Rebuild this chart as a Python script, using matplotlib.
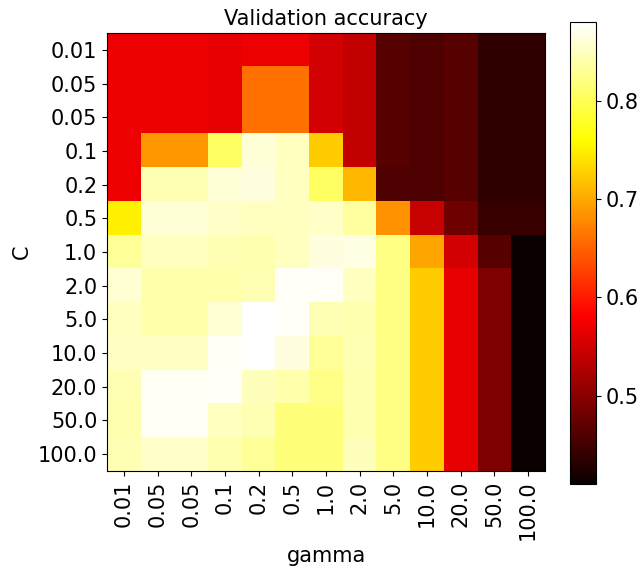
import numpy as np
import matplotlib
matplotlib.use('Agg')
import matplotlib.pyplot as plt

# tick labels as they appear on the chart
gamma_labels = ['0.01', '0.05', '0.05', '0.1', '0.2', '0.5', '1.0', '2.0',
                '5.0', '10.0', '20.0', '50.0', '100.0']
C_labels = ['0.01', '0.05', '0.05', '0.1', '0.2', '0.5', '1.0', '2.0',
            '5.0', '10.0', '20.0', '50.0', '100.0']

# validation accuracy, rows = C, cols = gamma
row_c001 = [0.571, 0.571, 0.571, 0.566, 0.571, 0.571, 0.550, 0.539, 0.464, 0.456, 0.464, 0.437, 0.437]
row_c005a = [0.571, 0.571, 0.571, 0.566, 0.660, 0.660, 0.550, 0.539, 0.464, 0.456, 0.464, 0.437, 0.437]
row_c005b = [0.571, 0.571, 0.571, 0.566, 0.660, 0.660, 0.550, 0.539, 0.464, 0.456, 0.464, 0.437, 0.437]
row_c01 = [0.571, 0.688, 0.688, 0.806, 0.861, 0.849, 0.725, 0.539, 0.464, 0.456, 0.464, 0.437, 0.437]
row_c02 = [0.571, 0.845, 0.845, 0.861, 0.864, 0.849, 0.806, 0.711, 0.458, 0.456, 0.464, 0.437, 0.437]
row_c05 = [0.750, 0.861, 0.861, 0.854, 0.849, 0.849, 0.854, 0.835, 0.684, 0.544, 0.480, 0.442, 0.442]
row_c1 = [0.831, 0.849, 0.849, 0.845, 0.842, 0.849, 0.864, 0.866, 0.822, 0.698, 0.550, 0.464, 0.410]
row_c2 = [0.859, 0.840, 0.840, 0.840, 0.845, 0.875, 0.875, 0.849, 0.822, 0.725, 0.566, 0.491, 0.410]
row_c5 = [0.849, 0.840, 0.840, 0.859, 0.880, 0.875, 0.845, 0.842, 0.822, 0.725, 0.566, 0.491, 0.410]
row_c10 = [0.852, 0.852, 0.852, 0.873, 0.880, 0.864, 0.831, 0.845, 0.822, 0.725, 0.566, 0.491, 0.410]
row_c20 = [0.845, 0.873, 0.873, 0.875, 0.847, 0.840, 0.824, 0.842, 0.822, 0.725, 0.566, 0.491, 0.410]
row_c50 = [0.842, 0.873, 0.873, 0.849, 0.845, 0.817, 0.817, 0.842, 0.822, 0.725, 0.566, 0.491, 0.410]
row_c100 = [0.845, 0.854, 0.854, 0.842, 0.831, 0.817, 0.817, 0.847, 0.822, 0.725, 0.566, 0.491, 0.410]

scores = np.array([row_c001, row_c005a, row_c005b, row_c01, row_c02, row_c05, row_c1,
                   row_c2, row_c5, row_c10, row_c20, row_c50, row_c100])

FS = 15

fig = plt.figure(figsize=(6.39, 5.73), dpi=100)
ax = fig.add_axes([0.1675, 0.178, 0.6854, 0.7644])
cax = fig.add_axes([0.892, 0.1553, 0.0407, 0.806])

im = ax.imshow(scores, interpolation='nearest', cmap=plt.cm.hot, aspect='auto')
ax.set_xlabel('gamma', fontsize=FS)
ax.set_ylabel('C', fontsize=FS)
ax.set_xticks(np.arange(len(gamma_labels)))
ax.set_xticklabels(gamma_labels, rotation=90, fontsize=FS)
ax.set_yticks(np.arange(len(C_labels)))
ax.set_yticklabels(C_labels, fontsize=FS)
ax.set_title('Validation accuracy', fontsize=FS)

cb = fig.colorbar(im, cax=cax)
cb.ax.tick_params(labelsize=FS)

fig.savefig('out.png', dpi=100)
